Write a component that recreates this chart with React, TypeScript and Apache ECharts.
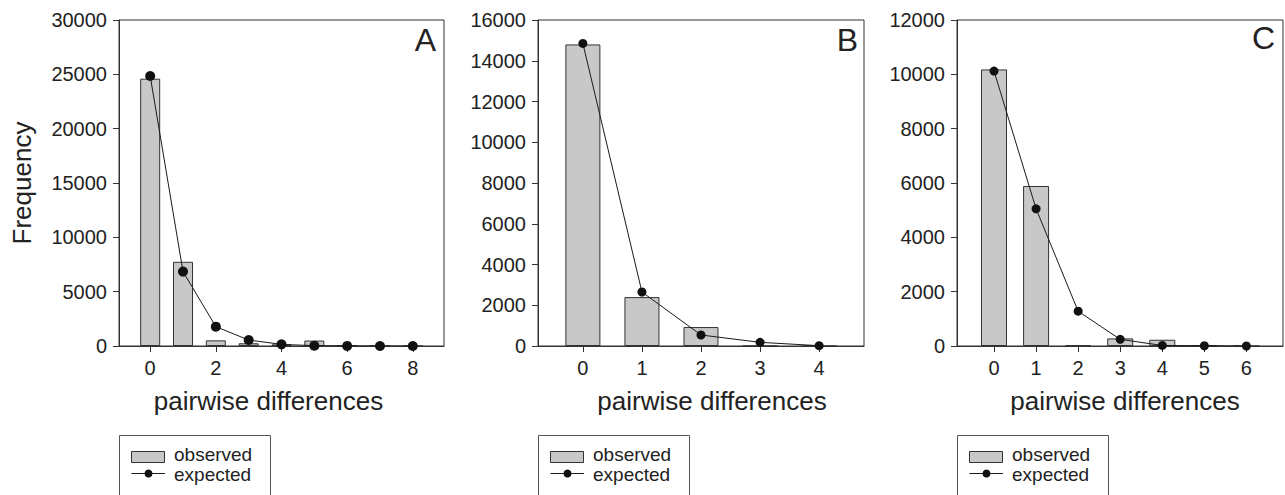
import React, { useEffect, useRef } from "react";
import * as echarts from "echarts";

// ---- data ----
const xA = [0, 1, 2, 3, 4, 5, 6, 7, 8];
const observedA = [24600, 7750, 520, 250, 150, 500, 50, 0, 0];
const expectedA = [24850, 6850, 1780, 550, 150, 30, 10, 0, 0];
const ticksA = [0, 2, 4, 6, 8];

const xB = [0, 1, 2, 3, 4];
const observedB = [14800, 2400, 930, 0, 0];
const expectedB = [14850, 2650, 540, 180, 15];
const ticksB = [0, 1, 2, 3, 4];

const xC = [0, 1, 2, 3, 4, 5, 6];
const observedC = [10180, 5890, 30, 280, 230, 20, 0];
const expectedC = [10120, 5050, 1280, 245, 20, 10, 0];
const ticksC = [0, 1, 2, 3, 4, 5, 6];

const panelLabels = ["A", "B", "C"];
const xAxisTitle = "pairwise differences";
const yAxisTitle = "Frequency";
const legendObserved = "observed";
const legendExpected = "expected";

const FONT = "'Liberation Sans', Arial, Helvetica, sans-serif";
const AX = "#333";
const TXT = "#222";
const BAR = "#c8c8c8";

export default function App() {
  const ref = useRef<HTMLDivElement>(null);
  useEffect(() => {
    if (!ref.current) return;
    const chart = echarts.init(ref.current, null, { renderer: "svg" });

    const panels = [
      { left: 119, width: 325, xs: xA, obs: observedA, exp: expectedA, ticks: ticksA, xmin: -0.95, xmax: 8.95, ymax: 30000, yint: 5000, barW: 20, sym: 10, labelX: 436, labelY: 24, namePad: [0, 26, 0, 0] },
      { left: 538, width: 326, xs: xB, obs: observedB, exp: expectedB, ticks: ticksB, xmin: -0.76, xmax: 4.76, ymax: 16000, yint: 2000, barW: 35, sym: 9, labelX: 858, labelY: 24, namePad: [0, 0, 0, 22] },
      { left: 957, width: 326, xs: xC, obs: observedC, exp: expectedC, ticks: ticksC, xmin: -0.88, xmax: 6.87, ymax: 12000, yint: 2000, barW: 26, sym: 9, labelX: 1275, labelY: 22, namePad: [0, 0, 0, 10] },
    ];

    const grid = panels.map((p) => ({
      left: p.left, top: 20, width: p.width, height: 326,
      show: true, borderColor: AX, borderWidth: 1, backgroundColor: "transparent",
    }));

    const xAxis = panels.map((p, i) => ({
      type: "value", gridIndex: i, min: p.xmin, max: p.xmax,
      axisLine: { show: true, onZero: false, lineStyle: { color: AX, width: 1 } },
      axisTick: { show: true, inside: false, length: 6, customValues: p.ticks, lineStyle: { color: AX } },
      axisLabel: { show: true, customValues: p.ticks, fontSize: 20, color: TXT, margin: 12, fontFamily: FONT },
      splitLine: { show: false },
      name: xAxisTitle, nameLocation: "middle", nameGap: 42,
      nameTextStyle: { fontSize: 26, color: TXT, fontFamily: FONT, padding: p.namePad },
    }));

    const yAxis = panels.map((p, i) => ({
      type: "value", gridIndex: i, min: 0, max: p.ymax, interval: p.yint,
      axisLine: { show: true, onZero: false, lineStyle: { color: AX, width: 1 } },
      axisTick: { show: true, inside: false, length: 6, lineStyle: { color: AX } },
      axisLabel: { fontSize: 20, color: TXT, margin: 12, fontFamily: FONT, formatter: (v: number) => String(v) },
      splitLine: { show: false },
      ...(i === 0
        ? { name: yAxisTitle, nameLocation: "middle", nameGap: 84, nameRotate: 90, nameTextStyle: { fontSize: 26, color: TXT, fontFamily: FONT } }
        : {}),
    }));

    const series: any[] = [];
    panels.forEach((p, i) => {
      series.push({
        type: "bar", name: legendObserved, xAxisIndex: i, yAxisIndex: i,
        data: p.xs.map((x, j) => [x, p.obs[j]]),
        barWidth: p.barW,
        itemStyle: { color: BAR, borderColor: AX, borderWidth: 1 },
        z: 2,
      });
      series.push({
        type: "line", name: legendExpected, xAxisIndex: i, yAxisIndex: i,
        data: p.xs.map((x, j) => [x, p.exp[j]]),
        symbol: "circle", symbolSize: p.sym,
        lineStyle: { color: "#1a1a1a", width: 1 },
        itemStyle: { color: "#111" },
        z: 3,
      });
    });

    const graphic: any[] = [];
    panels.forEach((p, i) => {
      graphic.push({
        type: "text", x: p.labelX, y: p.labelY,
        style: { text: panelLabels[i], fontSize: 32, fontFamily: FONT, fill: TXT, align: "right", verticalAlign: "top" },
      });
      const L = p.left;
      graphic.push({
        type: "rect", shape: { x: L + 0.5, y: 435.5, width: 151, height: 80 },
        style: { fill: "none", stroke: "#555", lineWidth: 1 },
      });
      graphic.push({
        type: "rect", shape: { x: L + 12.5, y: 451.5, width: 33, height: 11 },
        style: { fill: BAR, stroke: AX, lineWidth: 1 },
      });
      graphic.push({
        type: "text", x: L + 55, y: 454,
        style: { text: legendObserved, fontSize: 19, fontFamily: FONT, fill: TXT, align: "left", verticalAlign: "middle" },
      });
      graphic.push({
        type: "line", shape: { x1: L + 12.5, y1: 473.5, x2: L + 46, y2: 473.5 },
        style: { stroke: "#1a1a1a", lineWidth: 1 },
      });
      graphic.push({
        type: "circle", shape: { cx: L + 29.5, cy: 473.5, r: 4 },
        style: { fill: "#111" },
      });
      graphic.push({
        type: "text", x: L + 55, y: 474,
        style: { text: legendExpected, fontSize: 19, fontFamily: FONT, fill: TXT, align: "left", verticalAlign: "middle" },
      });
    });

    chart.setOption({
      animation: false,
      backgroundColor: "#fff",
      grid, xAxis, yAxis, series, graphic,
    });
    return () => chart.dispose();
  }, []);

  return <div ref={ref} style={{ position: "fixed", left: 0, top: 0, width: 1285, height: 495 }} />;
}
